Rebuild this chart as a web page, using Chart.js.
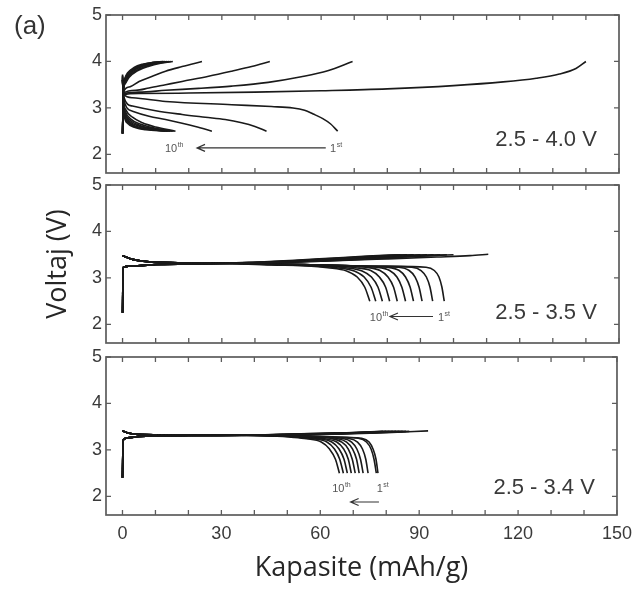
<!DOCTYPE html>
<html><head><meta charset="utf-8">
<script src="https://cdn.jsdelivr.net/npm/chart.js@4.4.1/dist/chart.umd.min.js"></script>
<style>
html,body{margin:0;padding:0;background:#fff;}
#wrap{position:relative;width:640px;height:589px;overflow:hidden;background:#fff;}
canvas{position:absolute;left:0;top:0;}
#lbl-a{position:absolute;left:14px;top:12px;font:26px "Liberation Sans",Arial,sans-serif;color:#333;line-height:1;}
</style></head><body>
<div id="wrap">
<canvas id="c1" width="640" height="589"></canvas>
<canvas id="c2" width="640" height="589"></canvas>
<canvas id="c3" width="640" height="589"></canvas>
<div id="lbl-a">(a)</div>
</div>
<script>
// ---------- data ----------
const xTickLabels = [0, 30, 60, 90, 120, 150];
const yTickLabels = [2, 3, 4, 5];
const panelLabels = ['2.5 - 4.0 V', '2.5 - 3.5 V', '2.5 - 3.4 V'];

// Panel 1 : 2.5 - 4.0 V (cycles 1..10)
const p1Charge = [
 [[0,2.45],[0.3,3.28],[5,3.31],[20,3.32],[40,3.34],[60,3.37],[80,3.41],[100,3.48],[115,3.56],[125,3.64],[132,3.73],[137,3.85],[140,4.0]],
 [[0,2.45],[0.3,3.3],[5,3.34],[13,3.38],[23,3.42],[33,3.47],[44,3.55],[54,3.67],[62,3.8],[69.5,4.0]],
 [[0,2.45],[0.3,3.32],[4,3.38],[8,3.43],[13,3.5],[18,3.57],[26,3.68],[33,3.79],[39,3.89],[44.5,4.0]],
 [[0,2.45],[0.3,3.34],[2,3.45],[5,3.57],[9,3.68],[13,3.79],[18,3.89],[24,4.0]],
 [[0,2.45],[0.3,3.38],[0.8,3.52],[2,3.66],[4.5,3.8],[8,3.9],[11.5,3.96],[15.2,4.0]],
 [[0,2.45],[0.3,3.4],[0.8,3.55],[2,3.69],[4.5,3.82],[8,3.92],[11,3.97],[14.6,4.0]],
 [[0,2.45],[0.3,3.42],[0.8,3.58],[2,3.72],[4.3,3.84],[7.5,3.93],[10.5,3.97],[14.0,4.0]],
 [[0,2.45],[0.3,3.44],[0.8,3.6],[1.8,3.73],[4,3.85],[7,3.93],[10,3.97],[13.4,4.0]],
 [[0,2.45],[0.3,3.46],[0.7,3.62],[1.6,3.74],[3.8,3.86],[6.5,3.94],[9.5,3.98],[12.8,4.0]],
 [[0,2.45],[0.3,3.48],[0.7,3.64],[1.5,3.75],[3.5,3.87],[6,3.94],[9,3.98],[12.2,4.0]]
];
const p1Discharge = [
 [[0,3.6],[0.3,3.3],[3,3.22],[13,3.14],[33,3.07],[45,3.03],[51.5,3.0],[55,2.95],[57.6,2.87],[60.5,2.77],[62.8,2.66],[65,2.5]],
 [[0,3.6],[0.3,3.25],[3,3.04],[10,2.94],[18,2.86],[25,2.8],[31,2.75],[36,2.68],[40,2.6],[43.5,2.5]],
 [[0,3.6],[0.3,3.2],[3,2.93],[8,2.82],[13,2.75],[18,2.67],[22,2.6],[27,2.5]],
 [[0,3.6],[0.3,3.15],[1,2.96],[3,2.8],[6,2.68],[10,2.59],[16,2.5]],
 [[0,3.62],[0.3,3.12],[0.9,2.92],[2.5,2.76],[5.5,2.65],[9.5,2.57],[15.4,2.5]],
 [[0,3.64],[0.3,3.1],[0.8,2.89],[2.2,2.74],[5,2.63],[9,2.56],[14.9,2.5]],
 [[0,3.66],[0.3,3.08],[0.8,2.86],[2,2.72],[4.5,2.62],[8.5,2.55],[14.4,2.5]],
 [[0,3.68],[0.3,3.06],[0.7,2.84],[1.8,2.7],[4.2,2.6],[8,2.54],[13.9,2.5]],
 [[0,3.7],[0.3,3.04],[0.7,2.82],[1.6,2.69],[4,2.59],[7.5,2.54],[13.4,2.5]],
 [[0,3.72],[0.3,3.02],[0.6,2.8],[1.5,2.67],[3.8,2.58],[7,2.53],[12.9,2.5]]
];

// Panel 2 : 2.5 - 3.5 V
const p2Charge = [
 [[0,2.25],[0.2,3.23],[4,3.26],[10,3.29],[20,3.3],[40,3.32],[60,3.36],[80,3.41],[95,3.45],[105,3.48],[110.5,3.51]],
 [[0,2.25],[0.2,3.23],[4,3.26],[10,3.29],[20,3.3],[40,3.32],[60,3.36],[75,3.41],[88,3.46],[100,3.5]],
 [[0,2.25],[0.2,3.23],[4,3.26],[10,3.29],[20,3.3],[40,3.32],[60,3.37],[75,3.42],[87,3.46],[98,3.5]],
 [[0,2.25],[0.2,3.23],[4,3.26],[10,3.29],[20,3.3],[40,3.32],[60,3.37],[74,3.42],[85,3.46],[96,3.5]],
 [[0,2.25],[0.2,3.23],[4,3.26],[10,3.29],[20,3.3],[40,3.32],[58,3.37],[72,3.42],[83,3.46],[94,3.5]],
 [[0,2.25],[0.2,3.23],[4,3.26],[10,3.29],[20,3.3],[40,3.32],[57,3.37],[70,3.42],[81,3.46],[92,3.5]],
 [[0,2.25],[0.2,3.23],[4,3.26],[10,3.29],[20,3.31],[40,3.33],[56,3.37],[69,3.42],[80,3.46],[90,3.5]],
 [[0,2.25],[0.2,3.23],[4,3.26],[10,3.29],[20,3.31],[38,3.33],[55,3.38],[68,3.43],[78,3.47],[88,3.5]],
 [[0,2.25],[0.2,3.23],[4,3.26],[10,3.29],[20,3.31],[38,3.33],[54,3.38],[66,3.43],[76,3.47],[86,3.5]],
 [[0,2.25],[0.2,3.23],[4,3.26],[10,3.29],[20,3.31],[36,3.33],[52,3.38],[64,3.43],[74,3.47],[84,3.5]]
];
const p2Discharge = [
 [[0,3.48],[3,3.4],[8,3.35],[30,3.32],[55,3.29],[80,3.25],[91.7,3.23],[94.2,3.16],[95.6,3.02],[96.5,2.8],[97.2,2.5]],
 [[0,3.48],[3,3.4],[8,3.35],[30,3.32],[55,3.29],[78,3.25],[87.4,3.23],[90.2,3.16],[91.8,3.02],[92.9,2.8],[93.7,2.5]],
 [[0,3.48],[3,3.4],[8,3.35],[30,3.32],[55,3.29],[75,3.25],[83.4,3.23],[86.6,3.16],[88.4,3.02],[89.6,2.8],[90.5,2.5]],
 [[0,3.48],[3,3.4],[8,3.35],[30,3.32],[55,3.29],[72,3.25],[80.0,3.23],[83.6,3.16],[85.5,3.02],[86.9,2.8],[87.9,2.5]],
 [[0,3.48],[3,3.4],[8,3.35],[30,3.32],[55,3.28],[70,3.25],[76.8,3.23],[80.7,3.16],[82.9,3.02],[84.4,2.8],[85.5,2.5]],
 [[0,3.48],[3,3.4],[8,3.35],[30,3.32],[55,3.28],[68,3.25],[73.5,3.23],[77.8,3.16],[80.2,3.02],[81.9,2.8],[83.0,2.5]],
 [[0,3.48],[3,3.4],[8,3.35],[30,3.32],[52,3.28],[64,3.25],[70.4,3.22],[75.0,3.16],[77.6,3.02],[79.5,2.8],[80.7,2.5]],
 [[0,3.48],[3,3.4],[8,3.35],[30,3.32],[50,3.28],[61,3.26],[67.4,3.22],[72.4,3.15],[75.2,3.02],[77.2,2.8],[78.5,2.5]],
 [[0,3.48],[3,3.4],[8,3.35],[30,3.32],[48,3.28],[58,3.26],[64.6,3.22],[70.0,3.15],[73.0,3.02],[75.1,2.8],[76.5,2.5]],
 [[0,3.48],[3,3.4],[8,3.35],[28,3.32],[45,3.28],[56,3.26],[62.0,3.22],[67.7,3.15],[70.9,3.02],[73.2,2.8],[74.7,2.5]]
];

// Panel 3 : 2.5 - 3.4 V
const p3Charge = [
 [[0,2.4],[0.2,3.21],[1.5,3.26],[5,3.29],[20,3.31],[45,3.32],[65,3.34],[80,3.37],[92.7,3.41]],
 [[0,2.4],[0.2,3.21],[1.5,3.26],[5,3.29],[20,3.31],[45,3.32],[62,3.34],[76,3.37],[87,3.4]],
 [[0,2.4],[0.2,3.21],[1.5,3.26],[5,3.29],[20,3.31],[45,3.32],[61,3.34],[75,3.37],[86,3.4]],
 [[0,2.4],[0.2,3.21],[1.5,3.26],[5,3.29],[20,3.31],[45,3.32],[60,3.34],[74,3.37],[85,3.4]],
 [[0,2.4],[0.2,3.21],[1.5,3.26],[5,3.29],[20,3.31],[44,3.32],[59,3.34],[73,3.37],[84,3.4]],
 [[0,2.4],[0.2,3.21],[1.5,3.26],[5,3.29],[20,3.31],[43,3.32],[58,3.34],[72,3.37],[83,3.4]],
 [[0,2.4],[0.2,3.21],[1.5,3.26],[5,3.29],[20,3.31],[42,3.32],[57,3.34],[71,3.37],[82,3.4]],
 [[0,2.4],[0.2,3.21],[1.5,3.26],[5,3.29],[20,3.31],[42,3.32],[56,3.34],[70,3.37],[81,3.4]],
 [[0,2.4],[0.2,3.21],[1.5,3.26],[5,3.29],[20,3.31],[41,3.32],[55,3.35],[69,3.37],[80,3.4]],
 [[0,2.4],[0.2,3.21],[1.5,3.26],[5,3.29],[20,3.31],[40,3.32],[54,3.35],[68,3.37],[79,3.4]]
];
const p3Discharge = [
 [[0,3.41],[2,3.36],[6,3.33],[30,3.32],[55,3.3],[68,3.27],[72.5,3.25],[74.8,3.17],[76.0,3.02],[76.9,2.8],[77.5,2.5]],
 [[0,3.41],[2,3.36],[6,3.33],[30,3.32],[55,3.3],[67,3.27],[71.5,3.25],[74.0,3.17],[75.4,3.02],[76.3,2.8],[77.0,2.5]],
 [[0,3.41],[2,3.36],[6,3.33],[30,3.32],[55,3.3],[64,3.27],[68.5,3.25],[71.3,3.17],[72.8,3.02],[73.8,2.8],[74.5,2.5]],
 [[0,3.41],[2,3.36],[6,3.33],[30,3.32],[52,3.3],[62,3.27],[66.5,3.25],[69.5,3.17],[71.1,3.02],[72.2,2.8],[73.0,2.5]],
 [[0,3.41],[2,3.36],[6,3.33],[30,3.32],[52,3.3],[61,3.27],[64.8,3.25],[68.0,3.17],[69.8,3.02],[71.0,2.8],[71.8,2.5]],
 [[0,3.41],[2,3.36],[6,3.33],[30,3.32],[50,3.3],[59,3.27],[63.1,3.25],[66.5,3.17],[68.5,3.02],[69.7,2.8],[70.6,2.5]],
 [[0,3.41],[2,3.36],[6,3.33],[30,3.32],[50,3.3],[57,3.27],[61.4,3.24],[65.0,3.17],[67.1,3.02],[68.5,2.8],[69.4,2.5]],
 [[0,3.41],[2,3.36],[6,3.33],[30,3.32],[48,3.3],[56,3.27],[59.7,3.24],[63.5,3.17],[65.7,3.02],[67.2,2.8],[68.2,2.5]],
 [[0,3.41],[2,3.36],[6,3.33],[30,3.32],[48,3.3],[54,3.27],[58.0,3.24],[62.0,3.17],[64.3,3.02],[65.9,2.8],[67.0,2.5]],
 [[0,3.41],[2,3.36],[6,3.33],[30,3.32],[45,3.3],[52,3.27],[55.8,3.24],[60.3,3.17],[62.8,3.02],[64.6,2.8],[65.8,2.5]]
];

// ---------- layout / style (not data) ----------
const CANVAS_H = 589;
const panels = [
  {id:'c1', top:15,  bottom:173, charge:p1Charge, discharge:p1Discharge, label:panelLabels[0], labelAt:[143.3,2.31],
   ann:{tenX:12.8, firstX:62.7, textV:2.14, arrowTail:61.4, arrowHead:22.5, arrowV:2.14}, xLabels:false, yTitle:false},
  {id:'c2', top:185, bottom:343, charge:p2Charge, discharge:p2Discharge, label:panelLabels[1], labelAt:[143.3,2.25],
   ann:{tenX:74.7, firstX:95.3, textV:2.17, arrowTail:93.8, arrowHead:80.8, arrowV:2.17}, xLabels:false, yTitle:true},
  {id:'c3', top:357, bottom:515, charge:p3Charge, discharge:p3Discharge, label:panelLabels[2], labelAt:[143.3,2.18],
   ann:{tenX:63.6, firstX:77.1, textV:2.18, arrowTail:77.8, arrowHead:69.2, arrowV:1.88}, xLabels:true, yTitle:false}
];

const LINE_COLOR = '#1a1a1a';
const AXIS_COLOR = '#5c5c5c';
const TEXT_COLOR = '#3a3a3a';
const TICK_FONT = {family:'"Liberation Sans", Arial, sans-serif', size:18};
const TITLE_FONT = {family:'"Open Sans", sans-serif', size:27};

function toPts(curve){ return curve.map(p => ({x:p[0], y:p[1]})); }

const framePlugin = {
  id:'frame',
  afterDatasetsDraw(chart, args, o){
    const {ctx, chartArea:a} = chart;
    const xs = chart.scales.x, ys = chart.scales.y;
    ctx.save();
    ctx.strokeStyle = AXIS_COLOR; ctx.lineWidth = 1.7;
    ctx.strokeRect(a.left, a.top, a.right - a.left, a.bottom - a.top);
    ctx.lineWidth = 1.3;
    ctx.beginPath();
    xs.ticks.forEach(t => {
      const p = xs.getPixelForValue(t.value);
      ctx.moveTo(p, a.bottom); ctx.lineTo(p, a.bottom - 5);
      ctx.moveTo(p, a.top); ctx.lineTo(p, a.top + 5);
    });
    ys.ticks.forEach(t => {
      const p = ys.getPixelForValue(t.value);
      ctx.moveTo(a.left, p); ctx.lineTo(a.left + 5, p);
      ctx.moveTo(a.right, p); ctx.lineTo(a.right - 5, p);
    });
    ctx.stroke();

    // range label
    ctx.fillStyle = TEXT_COLOR;
    ctx.font = '22px "Liberation Sans", Arial, sans-serif';
    ctx.textAlign = 'right'; ctx.textBaseline = 'middle';
    ctx.fillText(o.label, xs.getPixelForValue(o.labelAt[0]), ys.getPixelForValue(o.labelAt[1]));

    // cycle annotation
    const an = o.ann;
    const ty = ys.getPixelForValue(an.textV) + 4;
    ctx.textAlign = 'left'; ctx.textBaseline = 'alphabetic';
    ctx.fillStyle = '#555';
    let x0 = xs.getPixelForValue(an.tenX);
    ctx.font = '11px "Liberation Sans", Arial, sans-serif';
    ctx.fillText('10', x0, ty);
    let w = ctx.measureText('10').width;
    ctx.font = '7px "Liberation Sans", Arial, sans-serif';
    ctx.fillText('th', x0 + w + 0.5, ty - 5);
    let x1 = xs.getPixelForValue(an.firstX);
    ctx.font = '11px "Liberation Sans", Arial, sans-serif';
    ctx.fillText('1', x1, ty);
    w = ctx.measureText('1').width;
    ctx.font = '7px "Liberation Sans", Arial, sans-serif';
    ctx.fillText('st', x1 + w + 0.5, ty - 5);

    const ay = ys.getPixelForValue(an.arrowV);
    const ah = xs.getPixelForValue(an.arrowHead), at = xs.getPixelForValue(an.arrowTail);
    ctx.strokeStyle = '#333'; ctx.lineWidth = 1.2;
    ctx.beginPath();
    ctx.moveTo(at, ay); ctx.lineTo(ah, ay);
    ctx.moveTo(ah + 8, ay - 3.5); ctx.lineTo(ah, ay); ctx.lineTo(ah + 8, ay + 3.5);
    ctx.stroke();
    ctx.restore();
  }
};

panels.forEach(pn => {
  const datasets = [];
  pn.charge.forEach(c => datasets.push({data:toPts(c)}));
  pn.discharge.forEach(c => datasets.push({data:toPts(c)}));
  datasets.forEach(d => Object.assign(d, {
    showLine:true, borderColor:LINE_COLOR, borderWidth:1.6, pointRadius:0,
    cubicInterpolationMode:'monotone', fill:false
  }));
  new Chart(document.getElementById(pn.id), {
    type:'scatter',
    data:{datasets},
    plugins:[framePlugin],
    options:{
      responsive:false, animation:false, devicePixelRatio:1,
      layout:{padding:{left:0, right:21, top:pn.top, bottom:0}},
      plugins:{legend:{display:false}, tooltip:{enabled:false},
        frame:{label:pn.label, labelAt:pn.labelAt, ann:pn.ann}},
      scales:{
        x:{
          type:'linear', min:-5, max:150,
          grid:{display:false, drawTicks:false}, border:{display:false},
          ticks:{display:pn.xLabels, stepSize:10, includeBounds:false, autoSkip:false, maxRotation:0,
            padding:8, color:TEXT_COLOR, font:TICK_FONT,
            callback:v => xTickLabels.includes(v) ? String(v) : ''},
          title:{display:pn.xLabels, text:'Kapasite (mAh/g)', color:'#262626', font:TITLE_FONT,
            padding:{top:0, bottom:4}},
          afterFit:s => { s.height = CANVAS_H - pn.bottom; }
        },
        y:{
          type:'linear', min:1.6, max:5,
          grid:{display:false, drawTicks:false}, border:{display:false},
          ticks:{stepSize:1, includeBounds:false, padding:4, color:TEXT_COLOR, font:TICK_FONT,
            callback:v => yTickLabels.includes(v) ? String(v) : ''},
          title:{display:pn.yTitle, text:'Voltaj (V)', color:'#262626', font:TITLE_FONT,
            padding:{top:42, bottom:0}},
          afterFit:s => { s.width = 106; }
        }
      }
    }
  });
});
</script>
</body></html>
